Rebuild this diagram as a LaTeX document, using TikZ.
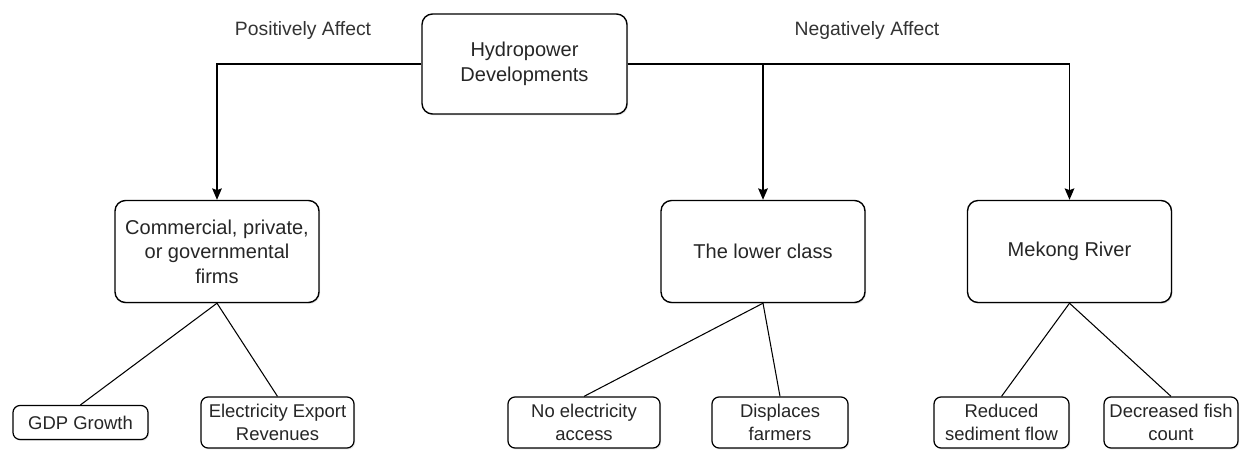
\documentclass[tikz,border=0pt]{standalone}
\usepackage{fontspec}
\setmainfont{Liberation Sans}
\usetikzlibrary{shadows,arrows.meta}

\tikzset{
  mainbox/.style={draw=black, line width=0.8pt, fill=white, rounded corners=6pt,
    minimum width=4.08cm, minimum height=2.04cm, align=center, inner sep=2pt,
    font=\fontsize{11.4}{14}\selectfont, text=black!85,
    drop shadow={opacity=0.2, shadow xshift=0.6pt, shadow yshift=-0.8pt}},
  leafbox/.style={draw=black, line width=0.7pt, fill=white, rounded corners=4pt,
    minimum height=0.68cm, align=center, inner sep=1pt,
    font=\fontsize{10.5}{13}\selectfont, text=black!85,
    drop shadow={opacity=0.2, shadow xshift=0.6pt, shadow yshift=-0.8pt}},
  sidelabel/.style={font=\fontsize{11}{13}\selectfont, text=black!80}
}

\begin{document}
\begin{tikzpicture}[>={Stealth[length=6.5pt,width=5.5pt,inset=1pt]}]
\useasboundingbox (0,0) rectangle (24.98,9.0);

%Top
\node[mainbox, minimum width=4.1cm, minimum height=2.0cm] (hydro) at (10.49,7.72) {Hydropower\\Developments};
\node[sidelabel] (pos) at (6.06,8.38) {Positively Affect};
\node[sidelabel] (neg) at (17.34,8.38) {Negatively Affect};

%Groups
\node[mainbox] (firms) at (4.34,3.97) {Commercial, private,\\or governmental\\firms};
\node[mainbox] (lower) at (15.26,3.97) {The lower class};
\node[mainbox] (mekong) at (21.39,3.97) {Mekong River};

%Effects
\node[leafbox, minimum width=2.7cm] (gdp) at (1.61,0.55) {GDP Growth};
\node[leafbox, minimum width=3.06cm, minimum height=1.02cm] (export) at (5.55,0.55) {Electricity Export\\Revenues};
\node[leafbox, minimum width=3.04cm, minimum height=1.02cm] (access) at (11.68,0.55) {No electricity\\access};
\node[leafbox, minimum width=2.72cm, minimum height=1.02cm] (farmers) at (15.6,0.55) {Displaces\\farmers};
\node[leafbox, minimum width=2.7cm, minimum height=1.02cm] (sediment) at (20.03,0.55) {Reduced\\sediment flow};
\node[leafbox, minimum width=2.68cm, minimum height=1.02cm] (fish) at (23.42,0.55) {Decreased fish\\count};

%Arrows
\draw[line width=0.8pt,->] (hydro.west) -| (firms.north);
\draw[line width=0.8pt,->] (hydro.east) -| (lower.north);
\draw[line width=0.8pt,->] (hydro.east) -| (mekong.north);

%Lines
\draw[line width=0.6pt] (firms.south) -- (gdp.north);
\draw[line width=0.6pt] (firms.south) -- (export.north);
\draw[line width=0.6pt] (lower.south) -- (access.north);
\draw[line width=0.6pt] (lower.south) -- (farmers.north);
\draw[line width=0.6pt] (mekong.south) -- (sediment.north);
\draw[line width=0.6pt] (mekong.south) -- (fish.north);

\end{tikzpicture}
\end{document}
